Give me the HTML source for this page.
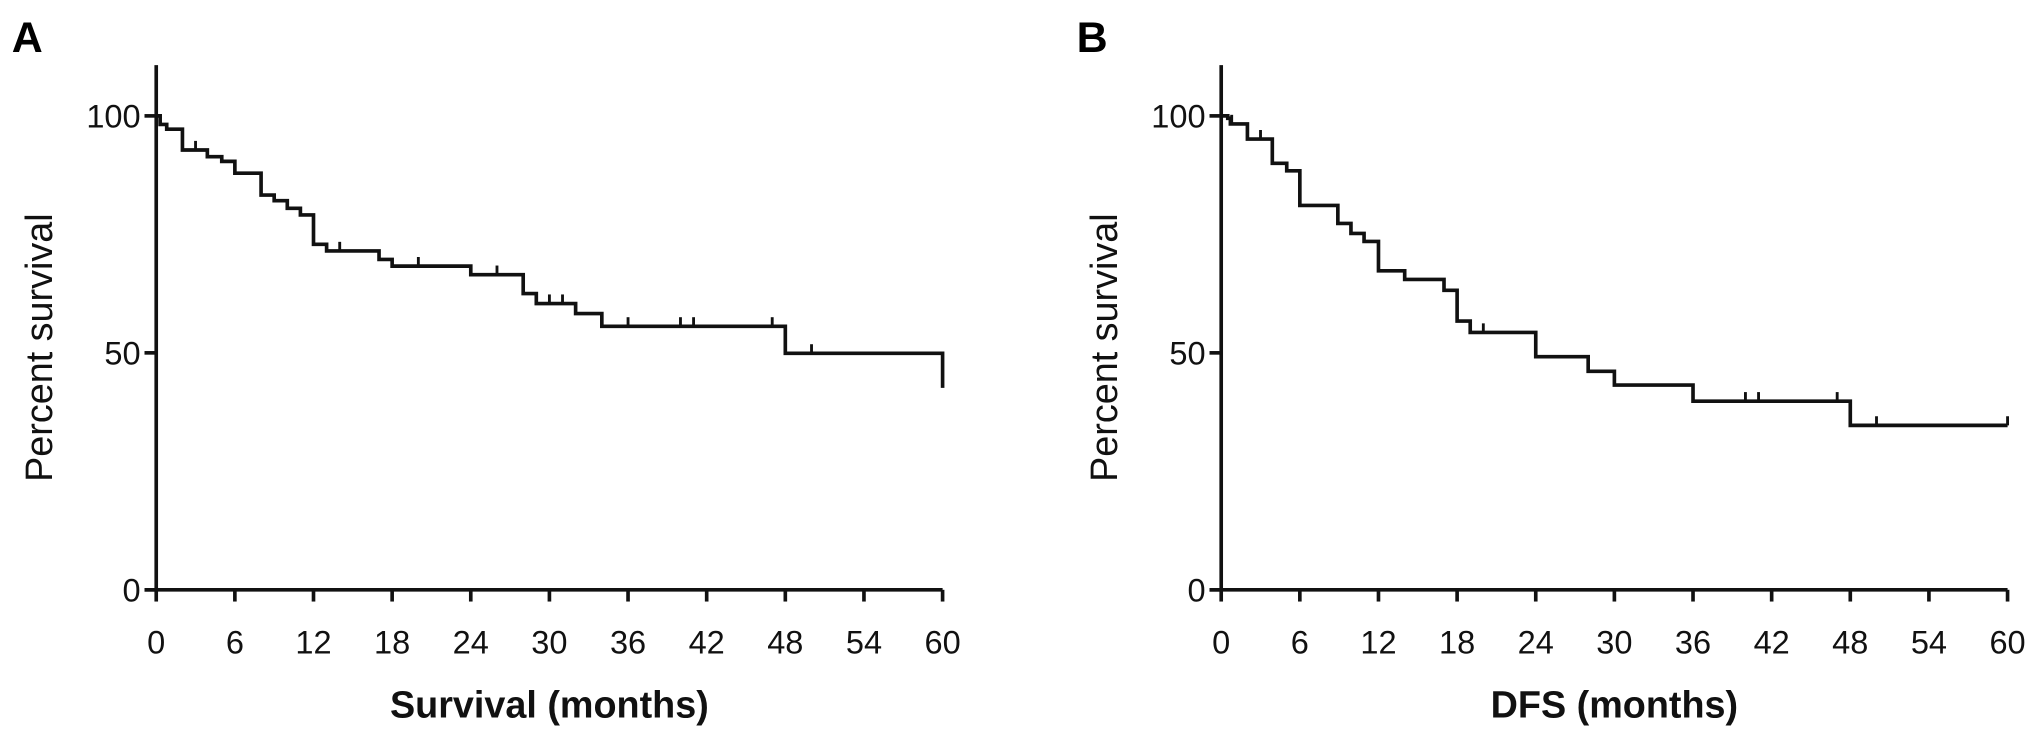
<!DOCTYPE html>
<html><head><meta charset="utf-8"><style>
html,body{margin:0;padding:0;background:#fff;}
svg{display:block;font-family:"Liberation Sans",Arial,sans-serif;}
</style></head><body>
<svg id="chart" width="2031" height="735" viewBox="0 0 1560 564.5" preserveAspectRatio="none" xmlns="http://www.w3.org/2000/svg"></svg>
<script>
// Panel A: overall survival
const aTimes = [0, 0.3, 0.8, 2, 3.9, 5, 6, 8, 9, 10, 11, 12, 13, 17, 18, 24, 28, 29, 32, 34, 48];
const aValues = [100, 98.2, 97.2, 92.8, 91.4, 90.4, 87.9, 83.3, 82.1, 80.5, 79.1, 72.9, 71.5, 69.7, 68.3, 66.5, 62.5, 60.4, 58.3, 55.6, 49.9];
const aEnd = 60, aEndValue = 42.6;
const aCensor = [3, 14, 20, 26, 30, 31, 36, 40, 41, 47, 50];
// Panel B: disease-free survival
const bTimes = [0, 0.5, 0.7, 2, 3.9, 5, 6, 8.9, 9.9, 10.9, 12, 14, 17, 18, 19, 24, 28, 30, 36, 48];
const bValues = [100, 99.5, 98.3, 95.1, 90.0, 88.4, 81.1, 77.3, 75.2, 73.5, 67.3, 65.5, 63.2, 56.7, 54.3, 49.2, 46.1, 43.2, 39.8, 34.7];
const bEnd = 60, bEndValue = 34.7;
const bCensor = [0.8, 3, 20, 40, 41, 47, 50, 60];
const xTicks = [0, 6, 12, 18, 24, 30, 36, 42, 48, 54, 60];
const yTicks = [0, 50, 100];

const NS = "http://www.w3.org/2000/svg";
const svg = document.getElementById('chart');
function mk(tag, attrs, parent) {
  const e = document.createElementNS(NS, tag);
  for (const k in attrs) e.setAttribute(k, attrs[k]);
  (parent || svg).appendChild(e);
  return e;
}
const Y0 = 453, Y100 = 89;
function yScale(v) { return Y0 - (v / 100) * (Y0 - Y100); }

function panel(key, x0, letter, xTitle, times, values, endT, endV, censor) {
  const xScale = t => x0 + t / 60 * 604;
  const g = mk('g', {});
  
  
  const L = mk('text', {x: x0 - 111, y: 40, 'font-size': 33, 'font-weight': 'bold'}, g);
  L.textContent = letter;
  
  
  const ax = mk('g', {stroke: '#111', 'stroke-width': 2.8, fill: 'none'}, g);
  
  
  mk('line', {x1: x0, y1: 50, x2: x0, y2: Y0}, ax);
  mk('line', {x1: x0 - 9, y1: Y0, x2: x0 + 604, y2: Y0}, ax);
  yTicks.forEach(v => {
    mk('line', {x1: x0 - 9, y1: yScale(v), x2: x0, y2: yScale(v)}, ax);
    const t = mk('text', {x: x0 - 12, y: yScale(v) + 9, 'font-size': 25, 'text-anchor': 'end', fill: '#111'}, g);
    t.textContent = v;
    
    
  });
  xTicks.forEach(v => {
    mk('line', {x1: xScale(v), y1: Y0, x2: xScale(v), y2: Y0 + 9}, ax);
    const t = mk('text', {x: xScale(v), y: 502, 'font-size': 25, 'text-anchor': 'middle', fill: '#111'}, g);
    t.textContent = v;
    
    
  });
  const yt = mk('text', {x: 0, y: 0, 'font-size': 29, 'text-anchor': 'middle', fill: '#111', transform: `translate(${x0 - 80},${yScale(50) - 4}) rotate(-90)`}, g);
  yt.textContent = 'Percent survival';
  
  
  const xt = mk('text', {x: x0 + 302, y: 551, 'font-size': 29, 'font-weight': 'bold', 'text-anchor': 'middle', fill: '#111'}, g);
  xt.textContent = xTitle;
  
  
  let d = `M${xScale(times[0])},${yScale(values[0])}`;
  for (let i = 1; i < times.length; i++) {
    d += ` H${xScale(times[i])} V${yScale(values[i])}`;
  }
  d += ` H${xScale(endT)} V${yScale(endV)}`;
  const p = mk('path', {d, fill: 'none', stroke: '#111', 'stroke-width': 2.8}, g);
  
  
  censor.forEach(c => {
    let v = values[0];
    for (let i = 0; i < times.length; i++) if (times[i] <= c) v = values[i];
    const m = mk('line', {x1: xScale(c), y1: yScale(v), x2: xScale(c), y2: yScale(v) - 7, stroke: '#111', 'stroke-width': 2.2}, g);
    
    
  });
}
panel('a', 120, 'A', 'Survival (months)', aTimes, aValues, aEnd, aEndValue, aCensor);
panel('b', 938, 'B', 'DFS (months)', bTimes, bValues, bEnd, bEndValue, bCensor);
</script>
</body></html>
